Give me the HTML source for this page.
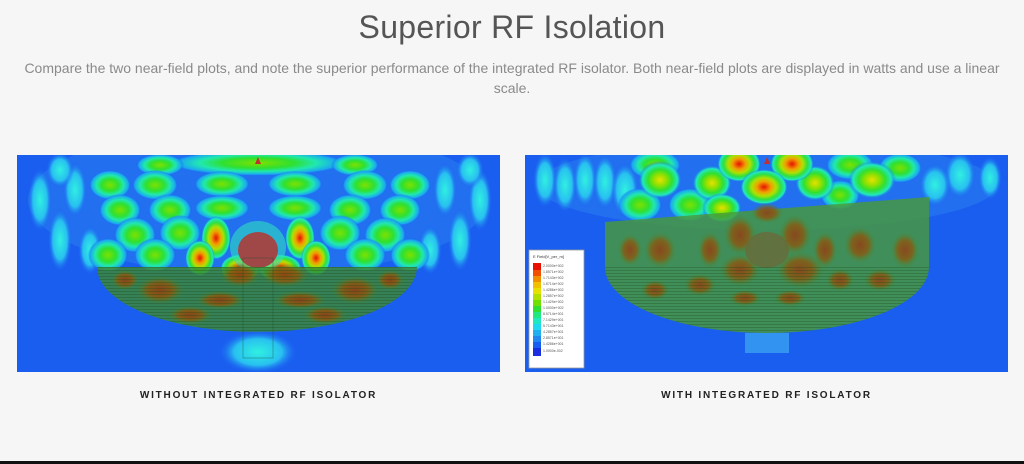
<!DOCTYPE html>
<html><head><meta charset="utf-8"><style>
html,body{margin:0;padding:0;width:1024px;height:464px;background:#f6f6f6;overflow:hidden;font-family:"Liberation Sans",sans-serif;position:relative}
h1{position:absolute;top:9px;left:0;width:1024px;text-align:center;margin:0;font-weight:normal;font-size:32px;color:#555;letter-spacing:0.3px}
p{position:absolute;top:58px;left:20px;width:984px;text-align:center;margin:0;font-size:14px;line-height:20px;color:#8a8a8a}
.cap{position:absolute;top:390px;font-size:10px;font-weight:bold;letter-spacing:1.8px;color:#222;text-align:center;width:483px}
svg{position:absolute;left:0;top:0}
.bl{position:absolute;left:0;top:461px;width:1024px;height:3px;background:#111}
</style></head><body>
<h1>Superior RF Isolation</h1>
<p>Compare the two near-field plots, and note the superior performance of the integrated RF isolator. Both near-field plots are displayed in watts and use a linear scale.</p>
<svg width="1024" height="464">
<defs>
<radialGradient id="g"><stop offset="0" stop-color="#7ee000"/><stop offset="0.4" stop-color="#2fe030"/><stop offset="0.65" stop-color="#20e8b0"/><stop offset="0.88" stop-color="#1aa8f0"/><stop offset="1" stop-color="#1a5af0" stop-opacity="0"/></radialGradient>
<radialGradient id="y"><stop offset="0" stop-color="#e8e000"/><stop offset="0.3" stop-color="#90e000"/><stop offset="0.55" stop-color="#30e030"/><stop offset="0.8" stop-color="#20e8c0"/><stop offset="1" stop-color="#1a5af0" stop-opacity="0"/></radialGradient>
<radialGradient id="r"><stop offset="0" stop-color="#e81000"/><stop offset="0.3" stop-color="#f0a000"/><stop offset="0.5" stop-color="#b0e000"/><stop offset="0.7" stop-color="#30e040"/><stop offset="0.88" stop-color="#20e8c0"/><stop offset="1" stop-color="#1a5af0" stop-opacity="0"/></radialGradient>
<radialGradient id="c"><stop offset="0" stop-color="#30f0e0"/><stop offset="0.6" stop-color="#28c0f0"/><stop offset="1" stop-color="#1a5af0" stop-opacity="0"/></radialGradient>
<radialGradient id="dr"><stop offset="0" stop-color="#9a3810"/><stop offset="0.55" stop-color="#8a5a10"/><stop offset="1" stop-color="#4a8a30" stop-opacity="0"/></radialGradient>
<pattern id="hl" width="4" height="3" patternUnits="userSpaceOnUse"><rect width="4" height="1" fill="#1a4a10" opacity="0.3"/></pattern>
<clipPath id="cl"><rect x="17" y="155" width="483" height="217"/></clipPath>
<clipPath id="cr"><rect x="525" y="155" width="483" height="217"/></clipPath>
</defs>
<!-- LEFT -->
<g clip-path="url(#cl)">
<rect x="17" y="155" width="483" height="217" fill="#1a5ef0"/>
<ellipse cx="258" cy="200" rx="230" ry="75" fill="#2a80f0" opacity="0.5"/>
<g fill="url(#c)">
<ellipse cx="40" cy="200" rx="12" ry="32"/><ellipse cx="60" cy="240" rx="12" ry="32"/><ellipse cx="75" cy="190" rx="12" ry="28"/><ellipse cx="90" cy="250" rx="12" ry="25"/>
<ellipse cx="480" cy="200" rx="12" ry="32"/><ellipse cx="460" cy="240" rx="12" ry="32"/><ellipse cx="445" cy="190" rx="12" ry="28"/><ellipse cx="430" cy="250" rx="12" ry="25"/>
<ellipse cx="60" cy="170" rx="14" ry="18"/><ellipse cx="470" cy="170" rx="14" ry="18"/>
</g>
<g fill="url(#g)">
<ellipse cx="258" cy="163" rx="90" ry="13"/><ellipse cx="160" cy="165" rx="24" ry="11"/><ellipse cx="355" cy="165" rx="24" ry="11"/>
<ellipse cx="110" cy="185" rx="21" ry="15"/><ellipse cx="155" cy="185" rx="23" ry="15"/><ellipse cx="222" cy="184" rx="28" ry="13"/><ellipse cx="295" cy="184" rx="28" ry="13"/><ellipse cx="365" cy="185" rx="23" ry="15"/><ellipse cx="410" cy="185" rx="21" ry="15"/>
<ellipse cx="120" cy="210" rx="21" ry="16"/><ellipse cx="170" cy="210" rx="22" ry="16"/><ellipse cx="222" cy="208" rx="28" ry="13"/><ellipse cx="295" cy="208" rx="28" ry="13"/><ellipse cx="350" cy="210" rx="22" ry="16"/><ellipse cx="400" cy="210" rx="21" ry="16"/>
<ellipse cx="135" cy="235" rx="21" ry="18"/><ellipse cx="180" cy="233" rx="21" ry="18"/><ellipse cx="340" cy="233" rx="21" ry="18"/><ellipse cx="385" cy="235" rx="21" ry="18"/>
<ellipse cx="108" cy="255" rx="20" ry="17"/><ellipse cx="155" cy="255" rx="21" ry="17"/><ellipse cx="365" cy="255" rx="21" ry="17"/><ellipse cx="410" cy="255" rx="20" ry="17"/>
</g>
<g fill="url(#r)">
<ellipse cx="216" cy="238" rx="15" ry="22"/><ellipse cx="300" cy="238" rx="15" ry="22"/><ellipse cx="200" cy="258" rx="15" ry="18"/><ellipse cx="316" cy="258" rx="15" ry="18"/>
<ellipse cx="240" cy="268" rx="20" ry="14"/><ellipse cx="280" cy="268" rx="22" ry="14"/>
</g>
<ellipse cx="258" cy="247" rx="28" ry="26" fill="#30e0c0" opacity="0.6"/>
<ellipse cx="258" cy="250" rx="20" ry="18" fill="#a04848"/>
<path d="M97 267 L417 267 A160 65 0 0 1 97 267 Z" fill="#3e8a2a" opacity="0.78"/>
<g fill="url(#dr)" opacity="0.85">
<ellipse cx="240" cy="275" rx="20" ry="12"/><ellipse cx="285" cy="275" rx="24" ry="12"/><ellipse cx="220" cy="300" rx="24" ry="9"/><ellipse cx="300" cy="300" rx="26" ry="9"/>
<ellipse cx="160" cy="290" rx="24" ry="14"/><ellipse cx="355" cy="290" rx="24" ry="14"/><ellipse cx="190" cy="315" rx="22" ry="9"/><ellipse cx="325" cy="315" rx="22" ry="9"/>
<ellipse cx="125" cy="280" rx="14" ry="10"/><ellipse cx="390" cy="280" rx="14" ry="10"/>
</g>
<path d="M97 267 L417 267 A160 65 0 0 1 97 267 Z" fill="url(#hl)"/>
<ellipse cx="258" cy="352" rx="40" ry="22" fill="url(#c)"/>
<rect x="243" y="258" width="30" height="100" fill="none" stroke="#1a4a30" stroke-width="0.7" opacity="0.5"/>
<polygon points="258,157 255,164 261,164" fill="#c03030"/>
</g>
<!-- RIGHT -->
<g clip-path="url(#cr)">
<rect x="525" y="155" width="483" height="217" fill="#1a5ef0"/>
<ellipse cx="767" cy="185" rx="230" ry="45" fill="#2a80f0" opacity="0.5"/>
<g fill="url(#c)">
<ellipse cx="545" cy="180" rx="12" ry="28"/><ellipse cx="565" cy="185" rx="12" ry="28"/><ellipse cx="585" cy="180" rx="12" ry="28"/><ellipse cx="605" cy="182" rx="12" ry="28"/><ellipse cx="625" cy="190" rx="14" ry="28"/>
<ellipse cx="960" cy="175" rx="16" ry="24"/><ellipse cx="990" cy="178" rx="12" ry="22"/><ellipse cx="935" cy="185" rx="16" ry="22"/>
</g>
<g fill="url(#g)">
<ellipse cx="655" cy="165" rx="26" ry="15"/><ellipse cx="850" cy="165" rx="24" ry="15"/><ellipse cx="900" cy="168" rx="22" ry="15"/>
<ellipse cx="640" cy="205" rx="22" ry="17"/><ellipse cx="690" cy="205" rx="22" ry="17"/><ellipse cx="840" cy="195" rx="20" ry="15"/>
</g>
<g fill="url(#y)">
<ellipse cx="660" cy="180" rx="22" ry="19"/><ellipse cx="712" cy="183" rx="20" ry="18"/><ellipse cx="815" cy="183" rx="20" ry="18"/><ellipse cx="872" cy="180" rx="24" ry="19"/><ellipse cx="722" cy="208" rx="20" ry="15"/>
</g>
<g fill="url(#r)">
<ellipse cx="739" cy="164" rx="22" ry="18"/><ellipse cx="792" cy="164" rx="22" ry="18"/><ellipse cx="764" cy="187" rx="24" ry="18"/>
</g>
<path d="M605 222 L929 197 L929 267 A162 66 0 0 1 605 267 Z" fill="#4a9a34" opacity="0.8"/>
<g fill="url(#dr)" opacity="0.8">
<ellipse cx="740" cy="235" rx="16" ry="20"/><ellipse cx="795" cy="235" rx="16" ry="20"/><ellipse cx="767" cy="213" rx="16" ry="10"/>
<ellipse cx="740" cy="270" rx="20" ry="16"/><ellipse cx="800" cy="270" rx="24" ry="18"/><ellipse cx="710" cy="250" rx="12" ry="18"/><ellipse cx="825" cy="250" rx="12" ry="18"/>
<ellipse cx="745" cy="298" rx="16" ry="8"/><ellipse cx="790" cy="298" rx="16" ry="8"/>
<ellipse cx="660" cy="250" rx="16" ry="18"/><ellipse cx="700" cy="285" rx="16" ry="11"/><ellipse cx="860" cy="245" rx="16" ry="18"/><ellipse cx="905" cy="250" rx="14" ry="18"/><ellipse cx="880" cy="280" rx="16" ry="11"/><ellipse cx="840" cy="280" rx="14" ry="11"/>
<ellipse cx="630" cy="250" rx="12" ry="16"/><ellipse cx="655" cy="290" rx="14" ry="10"/>
</g>
<ellipse cx="767" cy="250" rx="22" ry="18" fill="#6a6a3a" opacity="0.8"/>
<path d="M605 267 L929 267 A162 66 0 0 1 605 267 Z" fill="url(#hl)"/>
<rect x="745" y="333" width="44" height="20" fill="#3aa0f0" opacity="0.8"/>
<polygon points="767,157 764,164 770,164" fill="#c03030"/>
<rect x="529" y="250" width="55" height="118" fill="#fff" stroke="#999" stroke-width="0.8"/>
<text x="533" y="258" font-size="4" fill="#333">E Field[V_per_m]</text>
<g>
<rect x="533" y="263" width="8" height="7" fill="#e81000"/><rect x="533" y="270" width="8" height="6" fill="#f05000"/><rect x="533" y="276" width="8" height="6" fill="#f09000"/><rect x="533" y="282" width="8" height="6" fill="#f0c000"/><rect x="533" y="288" width="8" height="6" fill="#e8e000"/><rect x="533" y="294" width="8" height="6" fill="#b0e000"/><rect x="533" y="300" width="8" height="6" fill="#70e000"/><rect x="533" y="306" width="8" height="6" fill="#30e030"/><rect x="533" y="312" width="8" height="6" fill="#20e880"/><rect x="533" y="318" width="8" height="6" fill="#20e8c0"/><rect x="533" y="324" width="8" height="6" fill="#20d8f0"/><rect x="533" y="330" width="8" height="6" fill="#20b0f0"/><rect x="533" y="336" width="8" height="6" fill="#2088f0"/><rect x="533" y="342" width="8" height="6" fill="#1a60f0"/><rect x="533" y="348" width="8" height="8" fill="#1a30e0"/>
</g>
<g font-size="3.5" fill="#555">
<text x="543" y="267">2.0000e+002</text><text x="543" y="273">1.8571e+002</text><text x="543" y="279">1.7143e+002</text><text x="543" y="285">1.5714e+002</text><text x="543" y="291">1.4286e+002</text><text x="543" y="297">1.2857e+002</text><text x="543" y="303">1.1429e+002</text><text x="543" y="309">1.0000e+002</text><text x="543" y="315">8.5714e+001</text><text x="543" y="321">7.1429e+001</text><text x="543" y="327">5.7143e+001</text><text x="543" y="333">4.2857e+001</text><text x="543" y="339">2.8571e+001</text><text x="543" y="345">1.4286e+001</text><text x="543" y="352">1.0000e-002</text>
</g>
</g>
</svg>
<div class="cap" style="left:17px">WITHOUT INTEGRATED RF ISOLATOR</div>
<div class="cap" style="left:525px">WITH INTEGRATED RF ISOLATOR</div>
<div class="bl"></div>
</body></html>
